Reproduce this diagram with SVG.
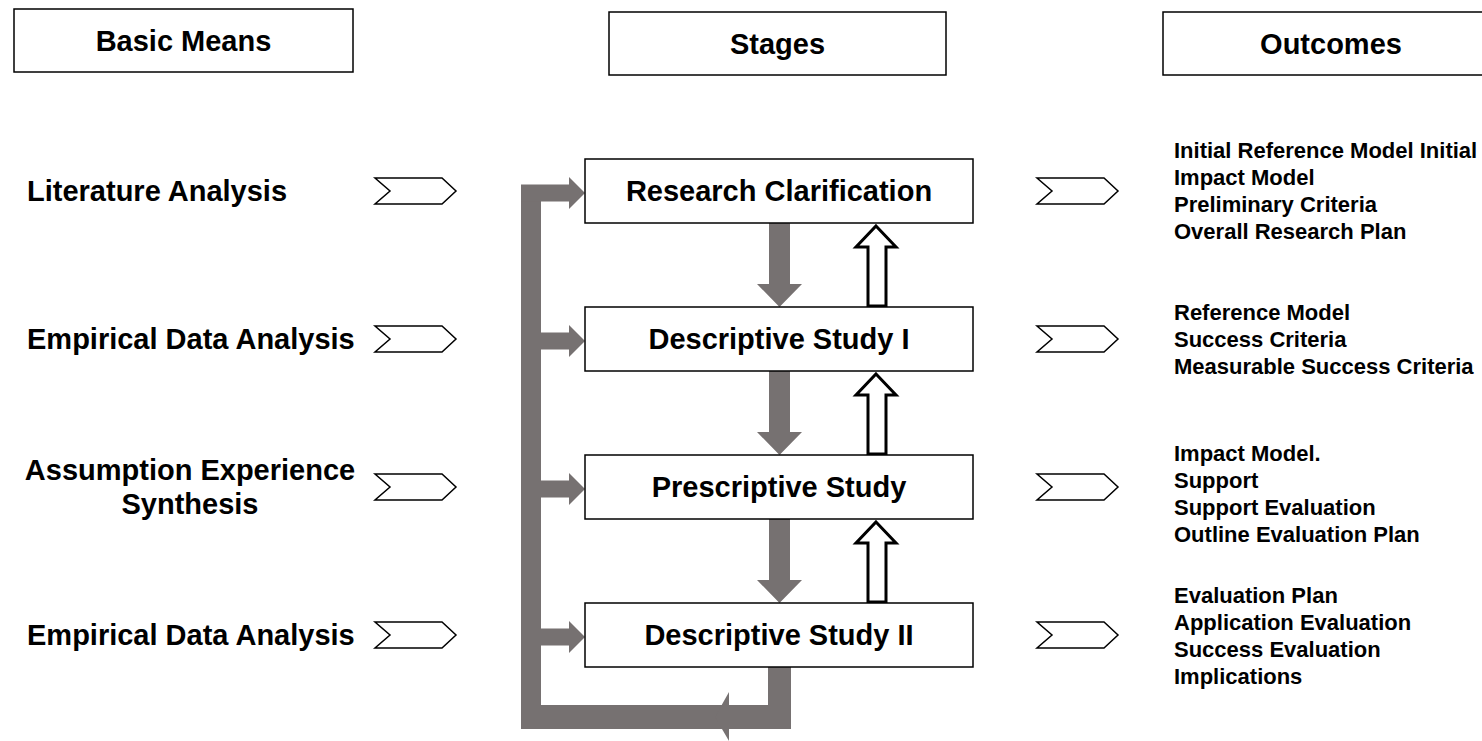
<svg xmlns="http://www.w3.org/2000/svg" width="1482" height="741" viewBox="0 0 1482 741">
<defs>
<style>
.box{fill:#fff;stroke:#000;stroke-width:1.5}
.big{font-family:"Liberation Sans",Arial,sans-serif;font-weight:bold;font-size:29px;fill:#000}
.small{font-family:"Liberation Sans",Arial,sans-serif;font-weight:bold;font-size:22px;fill:#000}
.chev{fill:#fff;stroke:#000;stroke-width:1.5}
.gray{fill:#767171;stroke:none}
.up{fill:#fff;stroke:#000;stroke-width:3;stroke-linejoin:miter}
</style>
<polygon id="chevL" class="chev" points="375,-13 442,-13 456,0 442,13 375,13 390,0"/>
<polygon id="chevR" class="chev" points="1037,-13 1104,-13 1118,0 1104,13 1037,13 1052,0"/>
</defs>
<rect width="1482" height="741" fill="#fff"/>

<g id="header-basic-means">
<rect class="box" x="14" y="9" width="339" height="63"/>
<text class="big" x="183.5" y="51" text-anchor="middle">Basic Means</text>
</g>
<g id="header-stages">
<rect class="box" x="609" y="12" width="337" height="63"/>
<text class="big" x="777.5" y="54" text-anchor="middle">Stages</text>
</g>
<g id="header-outcomes">
<rect class="box" x="1163" y="12" width="330" height="63"/>
<text class="big" x="1331" y="54" text-anchor="middle">Outcomes</text>
</g>

<g id="means">
<text class="big" x="27" y="201">Literature Analysis</text>
<text class="big" x="27" y="349">Empirical Data Analysis</text>
<text class="big" x="190" y="480" text-anchor="middle">Assumption Experience</text>
<text class="big" x="190" y="514" text-anchor="middle">Synthesis</text>
<text class="big" x="27" y="645">Empirical Data Analysis</text>
</g>

<g id="connectors">
<use href="#chevL" y="191"/>
<use href="#chevL" y="339"/>
<use href="#chevL" y="487"/>
<use href="#chevL" y="635"/>
<use href="#chevR" y="191"/>
<use href="#chevR" y="339"/>
<use href="#chevR" y="487"/>
<use href="#chevR" y="635"/>

<!-- feedback loop -->
<rect class="gray" x="521" y="185" width="20" height="544"/>
<rect class="gray" x="521" y="705" width="270" height="24"/>
<rect class="gray" x="768" y="666" width="23" height="63"/>
<polygon class="gray" points="715,717 729,692 729,741"/>
<!-- branches -->
<polygon class="gray" points="521,184.5 569,184.5 569,177 585,193 569,209 569,201.5 521,201.5"/>
<polygon class="gray" points="541,332.5 569,332.5 569,325 585,341 569,357 569,349.5 541,349.5"/>
<polygon class="gray" points="541,480.5 569,480.5 569,473 585,489 569,505 569,497.5 541,497.5"/>
<polygon class="gray" points="541,628.5 569,628.5 569,621 585,637 569,653 569,645.5 541,645.5"/>

<!-- down arrows -->
<polygon class="gray" points="769,223 790,223 790,284 802,284 779.5,307 757,284 769,284"/>
<polygon class="gray" points="769,371 790,371 790,432 802,432 779.5,455 757,432 769,432"/>
<polygon class="gray" points="769,519 790,519 790,580 802,580 779.5,603 757,580 769,580"/>

<!-- up arrows -->
<polygon class="up" points="876,226 896,247 886,247 886,306 868,306 868,247 856,247"/>
<polygon class="up" points="876,374 896,395 886,395 886,454 868,454 868,395 856,395"/>
<polygon class="up" points="876,522 896,543 886,543 886,602 868,602 868,543 856,543"/>
</g>

<g id="stage-research-clarification">
<rect class="box" x="585" y="159" width="388" height="64"/>
<text class="big" x="779" y="201" text-anchor="middle">Research Clarification</text>
</g>
<g id="stage-descriptive-study-1">
<rect class="box" x="585" y="307" width="388" height="64"/>
<text class="big" x="779" y="349" text-anchor="middle">Descriptive Study I</text>
</g>
<g id="stage-prescriptive-study">
<rect class="box" x="585" y="455" width="388" height="64"/>
<text class="big" x="779" y="497" text-anchor="middle">Prescriptive Study</text>
</g>
<g id="stage-descriptive-study-2">
<rect class="box" x="585" y="603" width="388" height="64"/>
<text class="big" x="779" y="645" text-anchor="middle">Descriptive Study II</text>
</g>

<g id="outcomes-1">
<text class="small" x="1174" y="158">Initial Reference Model Initial</text>
<text class="small" x="1174" y="185">Impact Model</text>
<text class="small" x="1174" y="212">Preliminary Criteria</text>
<text class="small" x="1174" y="239">Overall Research Plan</text>
</g>
<g id="outcomes-2">
<text class="small" x="1174" y="320">Reference Model</text>
<text class="small" x="1174" y="347">Success Criteria</text>
<text class="small" x="1174" y="374">Measurable Success Criteria</text>
</g>
<g id="outcomes-3">
<text class="small" x="1174" y="461">Impact Model.</text>
<text class="small" x="1174" y="488">Support</text>
<text class="small" x="1174" y="515">Support Evaluation</text>
<text class="small" x="1174" y="542">Outline Evaluation Plan</text>
</g>
<g id="outcomes-4">
<text class="small" x="1174" y="603">Evaluation Plan</text>
<text class="small" x="1174" y="630">Application Evaluation</text>
<text class="small" x="1174" y="657">Success Evaluation</text>
<text class="small" x="1174" y="684">Implications</text>
</g>
</svg>
